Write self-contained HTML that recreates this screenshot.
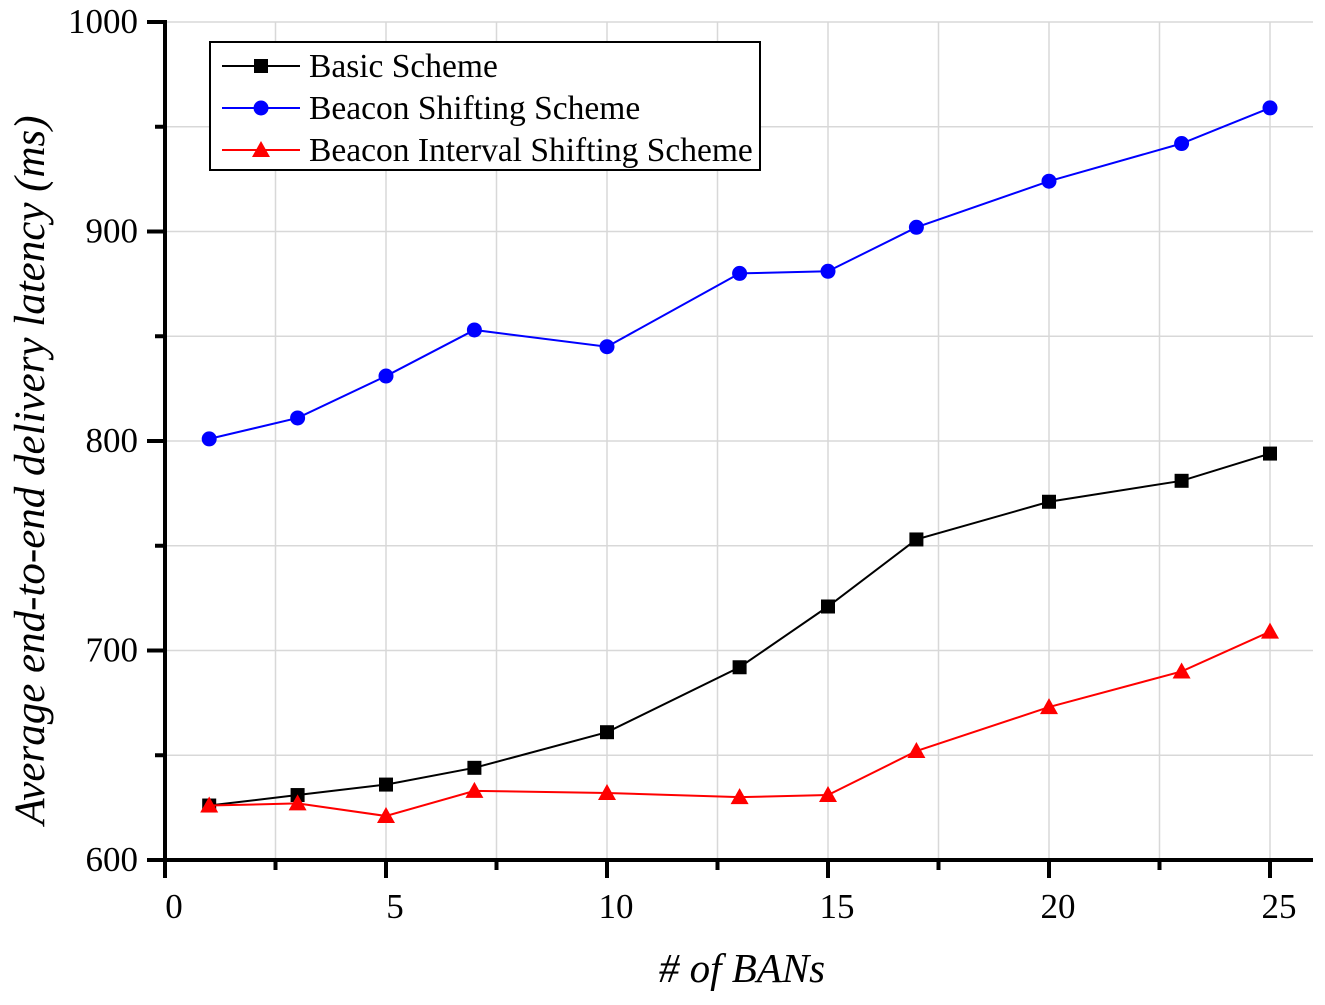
<!DOCTYPE html>
<html><head><meta charset="utf-8"><style>
body{margin:0;background:#fff}
svg{font-family:"Liberation Serif",serif}
</style></head><body>
<svg id="c" width="1325" height="1000"></svg>
<script>
const xs=[1,3,5,7,10,13,15,17,20,23,25];
const basic=[626,631,636,644,661,692,721,753,771,781,794];
const beacon=[801,811,831,853,845,880,881,902,924,942,959];
const interval=[626,627,621,633,632,630,631,652,673,690,709];
const xTicks=[0,5,10,15,20,25];
const yTicks=[600,700,800,900,1000];
const NS="http://www.w3.org/2000/svg";
const svg=document.getElementById('c');
const X=v=>165+v*44.2, Y=v=>860-(v-600)*2.095;
function mk(t,a,p){const e=document.createElementNS(NS,t);for(const k in a)e.setAttribute(k,a[k]);(p||svg).appendChild(e);return e;}
for(let v=2.5;v<=25;v+=2.5){const l=mk('line',{x1:X(v),x2:X(v),y1:22,y2:860,stroke:'#d8d8d8','stroke-width':1.5});

}
for(let v=650;v<=1000;v+=50){const l=mk('line',{x1:165,x2:1313,y1:Y(v),y2:Y(v),stroke:'#d8d8d8','stroke-width':1.5});

}
const ax=mk('line',{x1:147,x2:1313,y1:860,y2:860,stroke:'#000','stroke-width':4});


const ay=mk('line',{x1:165,x2:165,y1:20,y2:878,stroke:'#000','stroke-width':4});


for(let v=2.5;v<=25;v+=2.5){const maj=v%5===0;mk('line',{x1:X(v),x2:X(v),y1:860,y2:maj?878:870,stroke:'#000','stroke-width':4});}
for(let v=650;v<=1000;v+=50){const maj=v%100===0;mk('line',{x1:maj?147:155,x2:165,y1:Y(v),y2:Y(v),stroke:'#000','stroke-width':4});}
xTicks.forEach(v=>{const t=mk('text',{x:X(v)+9,y:918,'font-size':35,'text-anchor':'middle'});t.textContent=v;

});
yTicks.forEach(v=>{const t=mk('text',{x:138,y:Y(v)+11,'font-size':35,'text-anchor':'end'});t.textContent=v;

});
const xt=mk('text',{x:742,y:982,'font-size':41,'font-style':'italic','text-anchor':'middle'});xt.textContent='# of BANs';


const yt=mk('text',{x:0,y:0,'font-size':43,'font-style':'italic','text-anchor':'middle',transform:'translate(44,470) rotate(-90)'});yt.textContent='Average end-to-end delivery latency (ms)';


function marker(type,x,y,c,g){
 if(type==='s')return mk('rect',{x:x-7,y:y-7,width:14,height:14,fill:c},g);
 if(type==='c')return mk('circle',{cx:x,cy:y,r:7.5,fill:c},g);
 return mk('polygon',{points:`${x},${y-9} ${x-9},${y+7} ${x+9},${y+7}`,fill:c},g);
}
const series=[[basic,'#000','s','basic-scheme-series'],[beacon,'#0000ff','c','beacon-shifting-series'],[interval,'#ff0000','t','interval-shifting-series']];
series.forEach(([d,c,m,n])=>{const g=mk('g',{});


mk('polyline',{points:d.map((v,i)=>X(xs[i])+','+Y(v)).join(' '),fill:'none',stroke:c,'stroke-width':2},g);
d.forEach((v,i)=>marker(m,X(xs[i]),Y(v),c,g));});
const lg=mk('g',{});


mk('rect',{x:210,y:42,width:550,height:128,fill:'#fff',stroke:'#000','stroke-width':2},lg);
const names=['Basic Scheme','Beacon Shifting Scheme','Beacon Interval Shifting Scheme'];
series.forEach(([d,c,m],i)=>{const y=66+i*42;const e=mk('g',{},lg);


mk('line',{x1:222,x2:300,y1:y,y2:y,stroke:c,'stroke-width':2},e);marker(m,261,y,c,e);
const t=mk('text',{x:309,y:y+11,'font-size':33.5},e);t.textContent=names[i];});
</script>
</body></html>
